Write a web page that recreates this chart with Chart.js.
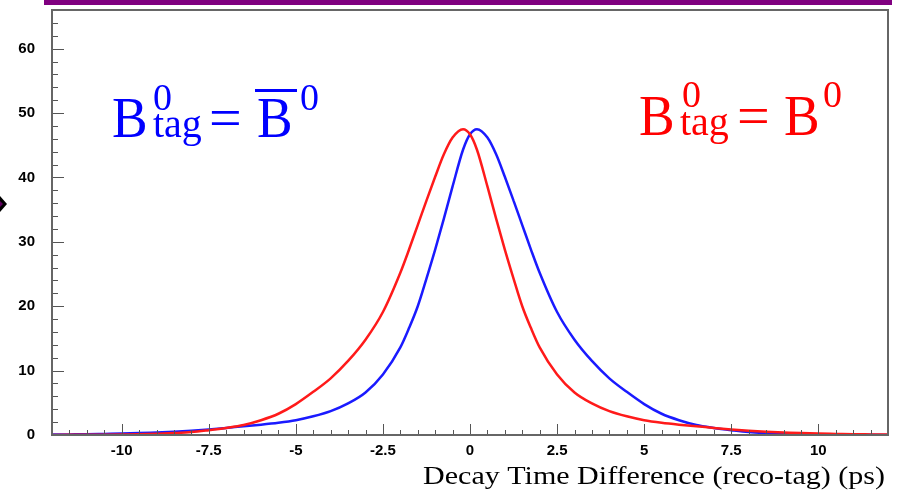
<!DOCTYPE html>
<html>
<head>
<meta charset="utf-8">
<script src="https://cdn.jsdelivr.net/npm/chart.js@4.4.0/dist/chart.umd.min.js"></script>
<style>
html, body { margin: 0; padding: 0; background: #fff; }
#wrap { position: relative; width: 905px; height: 493px; }
</style>
</head>
<body>
<div id="wrap"><canvas id="dt-chart" width="905" height="493"></canvas></div>
<script>
// decay time difference (ps)
const dtValues = [-12, -11.5, -11, -10.5, -10, -9.5, -9, -8.5, -8, -7.5, -7, -6.5, -6, -5.5, -5, -4.5, -4, -3.5, -3, -2.5,
  -2, -1.75, -1.5, -1.25, -1, -0.75, -0.5, -0.2, 0, 0.2, 0.5, 0.75, 1, 1.25, 1.5, 1.75, 2,
  2.5, 3, 3.5, 4, 4.5, 5, 5.5, 6, 6.5, 7, 7.5, 8, 8.5, 9, 9.5, 10, 10.5, 11, 11.5, 12];

// B0tag = B0bar
const blueValues = [0.06, 0.09, 0.12, 0.17, 0.22, 0.3, 0.4, 0.5, 0.65, 0.85, 1.1, 1.35, 1.6, 1.9, 2.3, 2.9, 3.7, 4.9, 6.6, 9.4,
  13.6, 16.6, 20.0, 24.3, 28.8, 33.6, 38.6, 44.3, 46.7, 47.5, 46.2, 43.6, 40.1, 36.4, 32.6, 28.8, 25.2,
  19.1, 14.8, 11.5, 8.8, 6.7, 4.8, 3.3, 2.3, 1.55, 1.1, 0.75, 0.45, 0.3, 0.2, 0.12, 0.08, 0.05, 0.03, 0.02, 0.01];

// B0tag = B0
const redValues = [0.01, 0.02, 0.03, 0.05, 0.08, 0.12, 0.2, 0.3, 0.45, 0.75, 1.1, 1.55, 2.3, 3.3, 4.8, 6.7, 8.8, 11.5, 14.8, 19.1,
  25.2, 28.8, 32.6, 36.4, 40.1, 43.6, 46.2, 47.5, 46.7, 44.3, 38.6, 33.6, 28.8, 24.3, 20.0, 16.6, 13.6,
  9.4, 6.6, 4.9, 3.7, 2.9, 2.3, 1.9, 1.6, 1.35, 1.1, 0.85, 0.65, 0.5, 0.4, 0.3, 0.22, 0.17, 0.12, 0.09, 0.06];

const xTickValues = [-10, -7.5, -5, -2.5, 0, 2.5, 5, 7.5, 10];
const yTickValues = [0, 10, 20, 30, 40, 50, 60];
const xTitle = 'Decay Time Difference (reco-tag) (ps)';

const toPoints = (vals) => vals.map((v, i) => ({ x: dtValues[i], y: v }));

const serif = '"Liberation Serif", "Times New Roman", serif';

// frame, inward ticks, slide decorations, axis title and the two labels
const decorPlugin = {
  id: 'decor',
  afterDraw(chart) {
    const ctx = chart.ctx;
    const a = chart.chartArea;
    const xs = chart.scales.x;
    const ys = chart.scales.y;

    ctx.save();
    // purple bar at top of slide
    ctx.fillStyle = '#800080';
    ctx.fillRect(44, 0, 848, 5);

    // arrow marker at left edge
    ctx.fillStyle = '#000';
    ctx.beginPath();
    ctx.moveTo(0, 196); ctx.lineTo(7, 204); ctx.lineTo(0, 212); ctx.closePath();
    ctx.fill();
    ctx.fillStyle = '#600060';
    ctx.beginPath();
    ctx.moveTo(0, 201); ctx.lineTo(3, 204); ctx.lineTo(0, 207); ctx.closePath();
    ctx.fill();

    // ticks
    ctx.strokeStyle = '#555';
    ctx.lineWidth = 1;
    for (let v = -12; v <= 12.001; v += 0.5) {
      const px = Math.round(xs.getPixelForValue(v)) + 0.5;
      const len = Math.abs(v / 2.5 - Math.round(v / 2.5)) < 1e-6 ? 11 : 5;
      ctx.beginPath(); ctx.moveTo(px, a.bottom); ctx.lineTo(px, a.bottom - len); ctx.stroke();
    }
    for (let v = 0; v <= 66; v += 2) {
      const py = Math.round(ys.getPixelForValue(v)) + 0.5;
      const len = v % 10 === 0 ? 12 : 6;
      ctx.beginPath(); ctx.moveTo(a.left, py); ctx.lineTo(a.left + len, py); ctx.stroke();
    }

    // frame
    ctx.strokeStyle = '#666';
    ctx.lineWidth = 2;
    ctx.strokeRect(a.left, a.top, a.right - a.left, a.bottom - a.top);

    const put = (txt, size, x, y, color, sx, align) => {
      ctx.font = size + 'px ' + serif;
      ctx.fillStyle = color;
      ctx.textBaseline = 'alphabetic';
      ctx.textAlign = align || 'left';
      ctx.save();
      ctx.translate(x, y);
      ctx.scale(sx, 1.0);
      ctx.fillText(txt, 0, 0);
      ctx.restore();
    };

    // x axis title, right aligned under the axis
    put(xTitle, 26, a.right - 3, 484, '#000', 1.155, 'right');

    const blue = '#0000ff';
    put('B', 58, 112, 137, blue, 0.92);
    put('0', 38, 153, 110, blue, 1.0);
    put('tag', 40, 153, 137, blue, 1.0);
    put('=', 58, 209, 137, blue, 1.0);
    put('B', 58, 257, 137, blue, 0.92);
    put('0', 38, 300, 110, blue, 1.0);
    ctx.fillStyle = blue;
    ctx.fillRect(255, 89, 42, 3);

    const red = '#ff0000';
    put('B', 58, 639, 135, red, 0.92);
    put('0', 38, 682, 107, red, 1.0);
    put('tag', 40, 680, 135, red, 1.0);
    put('=', 58, 737, 135, red, 1.0);
    put('B', 58, 784, 135, red, 0.92);
    put('0', 38, 823, 107, red, 1.0);
    ctx.restore();
  }
};

const tickFont = { family: '"Liberation Sans", Arial, sans-serif', size: 15, weight: 'bold' };

new Chart(document.getElementById('dt-chart').getContext('2d'), {
  type: 'line',
  data: {
    datasets: [{
      label: 'B0tag = B0',
      data: toPoints(redValues),
      borderColor: '#ff1a1a',
      borderWidth: 2.5,
      pointRadius: 0,
      fill: false,
      cubicInterpolationMode: 'monotone'
    }, {
      label: 'B0tag = B0bar',
      data: toPoints(blueValues),
      borderColor: '#1a1aff',
      borderWidth: 2.5,
      pointRadius: 0,
      fill: false,
      cubicInterpolationMode: 'monotone'
    }]
  },
  options: {
    responsive: false,
    animation: false,
    layout: { padding: { top: 10, right: 17, left: 0, bottom: 0 } },
    plugins: { legend: { display: false }, tooltip: { enabled: false } },
    scales: {
      x: {
        type: 'linear',
        min: -12,
        max: 12,
        grid: { display: false, drawTicks: false },
        border: { display: false },
        afterFit: (s) => { s.height = 58; s.paddingLeft = 0; s.paddingRight = 0; },
        afterBuildTicks: (s) => { s.ticks = xTickValues.map(v => ({ value: v })); },
        ticks: {
          color: '#000',
          font: tickFont,
          padding: 7,
          maxRotation: 0,
          autoSkip: false,
          callback: (v) => String(v)
        }
      },
      y: {
        type: 'linear',
        min: 0,
        max: 66,
        grid: { display: false, drawTicks: false },
        border: { display: false },
        afterFit: (s) => { s.width = 52; s.paddingTop = 0; s.paddingBottom = 0; },
        afterBuildTicks: (s) => { s.ticks = yTickValues.map(v => ({ value: v })); },
        ticks: {
          color: '#000',
          font: tickFont,
          padding: 17,
          callback: (v) => String(v)
        }
      }
    }
  },
  plugins: [decorPlugin]
});
</script>
</body>
</html>
